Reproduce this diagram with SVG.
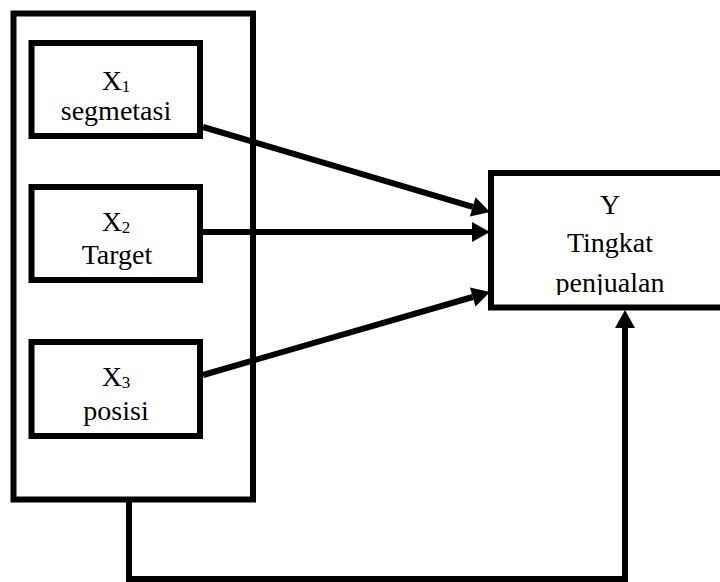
<svg xmlns="http://www.w3.org/2000/svg" width="720" height="582" viewBox="0 0 720 582">
  <style>
    .box { fill: #fff; stroke: #000; stroke-width: 6; }
    .frame { fill: none; stroke: #000; stroke-width: 6; }
    .lbl { font-family: "Liberation Serif", "Times New Roman", serif; font-size: 28px; fill: #000; text-anchor: middle; }
    .sub { font-size: 17px; }
    .edge { fill: none; stroke: #000; stroke-width: 6; marker-end: url(#arrow); }
  </style>
  <defs>
    <marker id="arrow" markerUnits="userSpaceOnUse" markerWidth="18" markerHeight="20" refX="0" refY="10" orient="auto" overflow="visible">
      <path d="M0,0 L18,10 L0,20 Z" fill="#000"/>
    </marker>
    <clipPath id="clipY">
      <rect x="491" y="173" width="240" height="122"/>
    </clipPath>
  </defs>
  <rect width="720" height="582" fill="#fff"/>

  <g id="group-x">
    <rect class="frame" x="13.5" y="13.5" width="239.5" height="486"/>
  </g>

  <g id="x1">
    <rect class="box" x="31.5" y="43" width="168.5" height="93"/>
    <text class="lbl" x="116" y="90">X<tspan class="sub" dy="2">1</tspan></text>
    <text class="lbl" x="116" y="120">segmetasi</text>
  </g>

  <g id="x2">
    <rect class="box" x="31.5" y="187" width="168.5" height="93"/>
    <text class="lbl" x="116" y="231">X<tspan class="sub" dy="2">2</tspan></text>
    <text class="lbl" x="117" y="264">Target</text>
  </g>

  <g id="x3">
    <rect class="box" x="31.5" y="342" width="168.5" height="94"/>
    <text class="lbl" x="116" y="386">X<tspan class="sub" dy="2">3</tspan></text>
    <text class="lbl" x="116" y="420">posisi</text>
  </g>

  <g id="y">
    <rect class="box" x="491" y="173" width="240" height="134.5"/>
    <text class="lbl" x="610" y="214">Y</text>
    <text class="lbl" x="610" y="252">Tingkat</text>
    <text class="lbl" x="610" y="292" clip-path="url(#clipY)">penjualan</text>
  </g>

  <g id="connectors">
    <line class="edge" x1="203" y1="127" x2="472.7" y2="206.9"/>
    <line class="edge" x1="203" y1="232" x2="472" y2="232"/>
    <line class="edge" x1="203" y1="375" x2="472.7" y2="297"/>
    <path class="edge" d="M129,502 V579 H625 V328"/>
  </g>
</svg>
